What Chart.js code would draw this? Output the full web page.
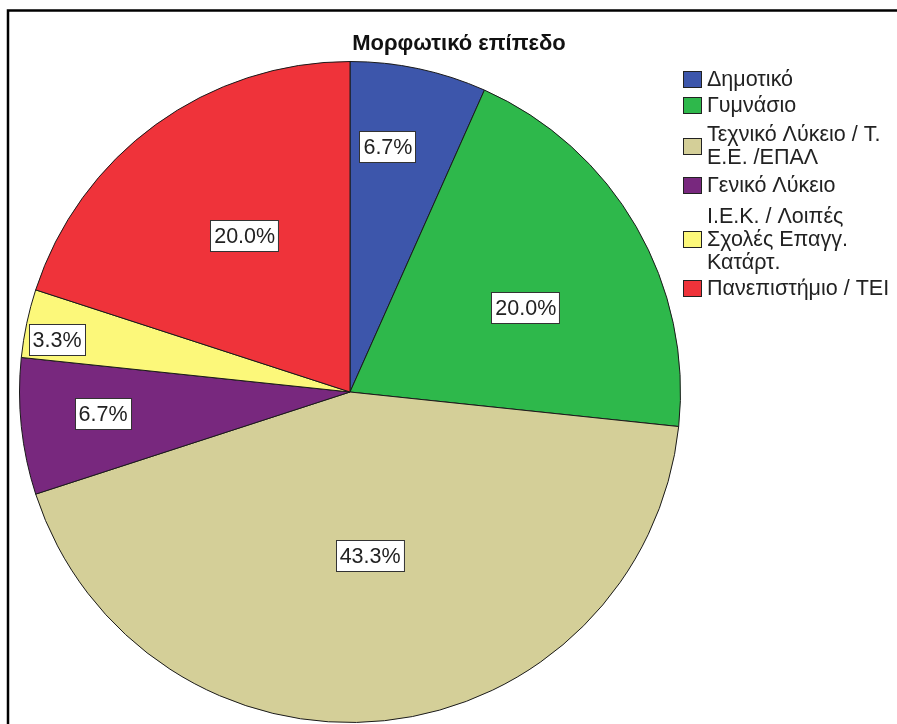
<!DOCTYPE html>
<html>
<head>
<meta charset="utf-8">
<script src="https://cdn.jsdelivr.net/npm/chart.js@4/dist/chart.umd.min.js"></script>
<style>
  html, body { margin: 0; padding: 0; background: #fff; }
  #pieChart { display: block; }
</style>
</head>
<body>
<canvas id="pieChart" width="897" height="724"></canvas>
<script>
  // data (counts out of 30)
  const chartTitle = 'Μορφωτικό επίπεδο';
  const categories = [
    'Δημοτικό',
    'Γυμνάσιο',
    ['Τεχνικό Λύκειο / Τ.', 'Ε.Ε. /ΕΠΑΛ'],
    'Γενικό Λύκειο',
    ['Ι.Ε.Κ. / Λοιπές', 'Σχολές Επαγγ.', 'Κατάρτ.'],
    'Πανεπιστήμιο / ΤΕΙ'
  ];
  const counts = [2, 6, 13, 2, 1, 6];
  const percentLabels = ['6.7%', '20.0%', '43.3%', '6.7%', '3.3%', '20.0%'];
  const sliceColors = ['#3D56AB', '#2EB84B', '#D4CF98', '#78287E', '#FCF87A', '#EF333A'];

  // where the boxed labels sit: [fraction of radius, angle shift in degrees]
  const labelPlace = [[0.75, -3.2], [0.59, 4.4], [0.50, -1], [0.75, 1], [0.90, -2], [0.57, 2]];
  const legendCenters = [79, 105, 146, 185, 239, 288];

  const framePlugin = {
    id: 'frame',
    afterDraw(chart) {
      const c = chart.ctx;
      c.save();
      // outer frame (top and left edges are visible)
      c.strokeStyle = '#000';
      c.lineWidth = 2.5;
      c.beginPath();
      c.moveTo(8, 724);
      c.lineTo(8, 10.5);
      c.lineTo(897, 10.5);
      c.stroke();

      // title
      c.fillStyle = '#111';
      c.font = 'bold 22px "Liberation Sans", Arial, sans-serif';
      c.textAlign = 'center';
      c.textBaseline = 'middle';
      c.fillText(chartTitle, 459, 44);

      // legend
      c.font = '21.5px "Liberation Sans", Arial, sans-serif';
      c.textAlign = 'left';
      categories.forEach((lab, i) => {
        const lines = Array.isArray(lab) ? lab : [lab];
        const cy = legendCenters[i];
        c.fillStyle = sliceColors[i];
        c.fillRect(683, cy - 8, 19, 17);
        c.strokeStyle = '#222';
        c.lineWidth = 1;
        c.strokeRect(683.5, cy - 7.5, 18, 16);
        c.fillStyle = '#222';
        const lh = 23;
        const y0 = cy - (lines.length - 1) * lh / 2;
        lines.forEach((t, k) => c.fillText(t, 707, y0 + k * lh + 1));
      });
      c.restore();
    },
    afterDatasetsDraw(chart) {
      const c = chart.ctx;
      const meta = chart.getDatasetMeta(0);
      c.save();
      c.font = '21.5px "Liberation Sans", Arial, sans-serif';
      c.textAlign = 'center';
      c.textBaseline = 'middle';
      meta.data.forEach((arc, i) => {
        const p = labelPlace[i];
        const a = (arc.startAngle + arc.endAngle) / 2 + p[1] * Math.PI / 180;
        const r = arc.outerRadius * p[0];
        const x = arc.x + Math.cos(a) * r;
        const y = arc.y + Math.sin(a) * r;
        const w = c.measureText(percentLabels[i]).width + 8;
        const h = 32;
        c.fillStyle = '#fff';
        c.fillRect(Math.round(x - w / 2), Math.round(y - h / 2), w, h);
        c.strokeStyle = '#333';
        c.lineWidth = 1;
        c.strokeRect(Math.round(x - w / 2) + 0.5, Math.round(y - h / 2) + 0.5, w - 1, h - 1);
        c.fillStyle = '#222';
        c.fillText(percentLabels[i], x, y + 1);
      });
      c.restore();
    }
  };

  const ctx = document.getElementById('pieChart');

  new Chart(ctx, {
    type: 'pie',
    data: {
      labels: categories,
      datasets: [{
        label: chartTitle,
        data: counts,
        backgroundColor: sliceColors,
        borderColor: '#1a1a1a',
        borderWidth: 1
      }]
    },
    options: {
      responsive: false,
      animation: false,
      layout: {
        padding: { left: 19, top: 61, right: 216, bottom: 1 }
      },
      plugins: {
        legend: { display: false },
        title: { display: false },
        tooltip: { enabled: false }
      }
    },
    plugins: [framePlugin]
  });
</script>
</body>
</html>
